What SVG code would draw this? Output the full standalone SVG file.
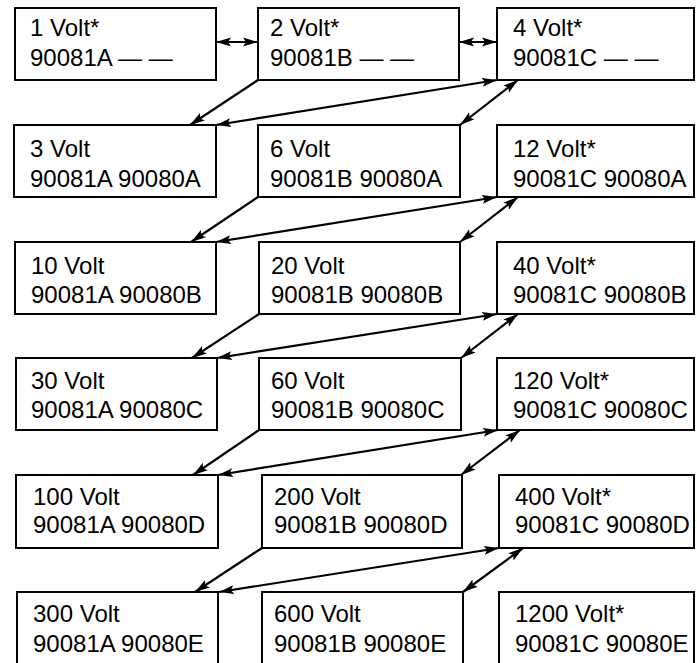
<svg xmlns="http://www.w3.org/2000/svg" width="697" height="663" viewBox="0 0 697 663">
<defs>
<style>
.box{fill:#fff;stroke:#000;stroke-width:2}
.t{font-family:"Liberation Sans",Arial,sans-serif;font-size:24px;fill:#000}
.c{stroke:#000;stroke-width:2.2;fill:none}
.a{marker-end:url(#ah)}
.d{marker-end:url(#ah);marker-start:url(#ahs)}
</style>
<marker id="ah" viewBox="0 0 15 10" refX="15" refY="5" markerWidth="15" markerHeight="10" markerUnits="userSpaceOnUse" orient="auto"><path d="M0,0.5 L15,5 L0,9.5 L3,5 z" fill="#000"/></marker>
<marker id="ahs" viewBox="0 0 15 10" refX="15" refY="5" markerWidth="15" markerHeight="10" markerUnits="userSpaceOnUse" orient="auto-start-reverse"><path d="M0,0.5 L15,5 L0,9.5 L3,5 z" fill="#000"/></marker>
</defs>
<rect width="697" height="663" fill="#fff"/>

<g id="connectors">
<line class="c d" x1="216" y1="42" x2="258" y2="42"/>
<line class="c d" x1="459" y1="42" x2="497" y2="42"/>

<line class="c a" x1="258" y1="80" x2="190" y2="125"/>
<line class="c d" x1="497" y1="80" x2="216" y2="125"/>
<line class="c d" x1="518" y1="80" x2="460" y2="125"/>

<line class="c a" x1="258" y1="197" x2="191" y2="242"/>
<line class="c d" x1="497" y1="197" x2="216" y2="242"/>
<line class="c d" x1="518" y1="197" x2="460" y2="242"/>

<line class="c a" x1="259" y1="314" x2="192" y2="358"/>
<line class="c d" x1="497" y1="314" x2="217" y2="358"/>
<line class="c d" x1="518" y1="314" x2="461" y2="358"/>

<line class="c a" x1="259" y1="430" x2="193" y2="475"/>
<line class="c d" x1="498" y1="430" x2="218" y2="475"/>
<line class="c d" x1="520" y1="430" x2="461" y2="475"/>

<line class="c a" x1="262" y1="548" x2="195" y2="592"/>
<line class="c d" x1="499" y1="548" x2="219" y2="592"/>
<line class="c d" x1="523" y1="548" x2="463" y2="592"/>
</g>

<g id="n1"><rect class="box" x="15" y="8" width="201" height="72"/><text class="t" x="30" y="36">1 Volt*</text><text class="t" x="30" y="66">90081A — —</text></g>
<g id="n2"><rect class="box" x="258" y="8" width="201" height="72"/><text class="t" x="270" y="36">2 Volt*</text><text class="t" x="270" y="66">90081B — —</text></g>
<g id="n4"><rect class="box" x="497" y="8" width="197" height="72"/><text class="t" x="513" y="36">4 Volt*</text><text class="t" x="513" y="66">90081C — —</text></g>

<g id="n3"><rect class="box" x="14" y="125" width="202" height="72"/><text class="t" x="30" y="157">3 Volt</text><text class="t" x="30" y="187">90081A 90080A</text></g>
<g id="n6"><rect class="box" x="258" y="125" width="202" height="72"/><text class="t" x="270" y="157">6 Volt</text><text class="t" x="270" y="187">90081B 90080A</text></g>
<g id="n12"><rect class="box" x="497" y="125" width="197" height="72"/><text class="t" x="513" y="157">12 Volt*</text><text class="t" x="513" y="187">90081C 90080A</text></g>

<g id="n10"><rect class="box" x="15" y="242" width="201" height="72"/><text class="t" x="31" y="274">10 Volt</text><text class="t" x="31" y="303">90081A 90080B</text></g>
<g id="n20"><rect class="box" x="259" y="242" width="201" height="72"/><text class="t" x="271" y="274">20 Volt</text><text class="t" x="271" y="303">90081B 90080B</text></g>
<g id="n40"><rect class="box" x="497" y="242" width="197" height="72"/><text class="t" x="513" y="274">40 Volt*</text><text class="t" x="513" y="303">90081C 90080B</text></g>

<g id="n30"><rect class="box" x="16" y="358" width="201" height="72"/><text class="t" x="31" y="389">30 Volt</text><text class="t" x="31" y="418">90081A 90080C</text></g>
<g id="n60"><rect class="box" x="259" y="358" width="202" height="72"/><text class="t" x="271" y="389">60 Volt</text><text class="t" x="271" y="418">90081B 90080C</text></g>
<g id="n120"><rect class="box" x="497" y="358" width="197" height="72"/><text class="t" x="513" y="389">120 Volt*</text><text class="t" x="513" y="418">90081C 90080C</text></g>

<g id="n100"><rect class="box" x="16" y="475" width="202" height="73"/><text class="t" x="33" y="505">100 Volt</text><text class="t" x="33" y="533">90081A 90080D</text></g>
<g id="n200"><rect class="box" x="262" y="475" width="200" height="73"/><text class="t" x="274" y="505">200 Volt</text><text class="t" x="274" y="533">90081B 90080D</text></g>
<g id="n400"><rect class="box" x="499" y="475" width="195" height="73"/><text class="t" x="515" y="505">400 Volt*</text><text class="t" x="515" y="533">90081C 90080D</text></g>

<g id="n300"><rect class="box" x="17" y="592" width="201" height="90"/><text class="t" x="33" y="622">300 Volt</text><text class="t" x="33" y="652">90081A 90080E</text></g>
<g id="n600"><rect class="box" x="262" y="592" width="201" height="90"/><text class="t" x="274" y="622">600 Volt</text><text class="t" x="274" y="652">90081B 90080E</text></g>
<g id="n1200"><rect class="box" x="499" y="592" width="195" height="90"/><text class="t" x="515" y="622">1200 Volt*</text><text class="t" x="515" y="652">90081C 90080E</text></g>
</svg>
